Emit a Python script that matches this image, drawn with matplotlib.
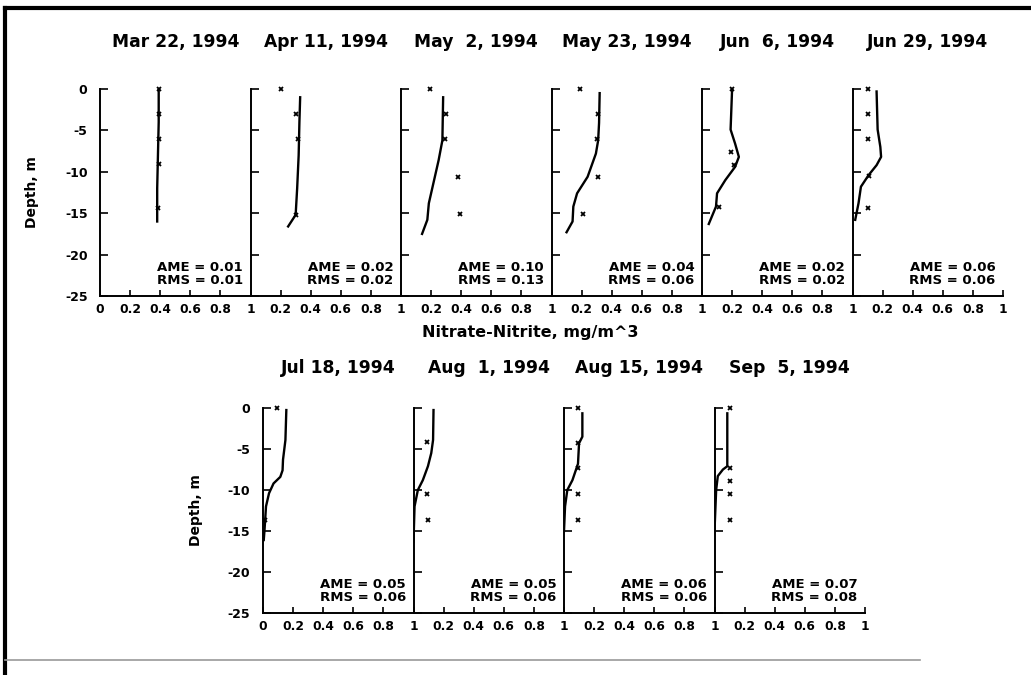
import matplotlib
matplotlib.use('Agg')
import matplotlib.pyplot as plt
from matplotlib.lines import Line2D

plt.rcParams['font.family'] = ['DejaVu Sans']
plt.rcParams['font.weight'] = 'bold'

# ── DATA ──
dates = ['Mar 22, 1994', 'Apr 11, 1994', 'May  2, 1994', 'May 23, 1994',
         'Jun  6, 1994', 'Jun 29, 1994', 'Jul 18, 1994', 'Aug  1, 1994',
         'Aug 15, 1994', 'Sep  5, 1994']
ame = [0.01, 0.02, 0.10, 0.04, 0.02, 0.06, 0.05, 0.05, 0.06, 0.07]
rms = [0.01, 0.02, 0.13, 0.06, 0.02, 0.06, 0.06, 0.06, 0.06, 0.08]

# model profiles (concentration, depth)
model_conc = [
    [0.39, 0.39, 0.385, 0.38, 0.38],
    [0.33, 0.325, 0.32, 0.31, 0.30, 0.25],
    [0.28, 0.275, 0.25, 0.22, 0.185, 0.175, 0.14],
    [0.32, 0.316, 0.31, 0.295, 0.24, 0.17, 0.145, 0.14, 0.10],
    [0.20, 0.19, 0.22, 0.245, 0.22, 0.155, 0.10, 0.093, 0.045],
    [0.16, 0.167, 0.185, 0.19, 0.16, 0.107, 0.056, 0.04, 0.018],
    [0.155, 0.149, 0.133, 0.13, 0.115, 0.07, 0.04, 0.02, 0.01, 0.005],
    [0.133, 0.13, 0.118, 0.096, 0.062, 0.029, 0.007, 0.0],
    [0.122, 0.122, 0.10, 0.093, 0.056, 0.022, 0.007, 0.0],
    [0.085, 0.085, 0.056, 0.022, 0.011, 0.0],
]
model_depth = [
    [0, -4, -8, -12, -16],
    [-1, -4, -8, -12, -15.2, -16.6],
    [-1, -6.2, -8.6, -11, -13.8, -15.8, -17.5],
    [-0.5, -4.1, -6.2, -7.8, -10.6, -12.6, -14.2, -16, -17.3],
    [0, -4.9, -6.6, -8.2, -9.4, -11, -12.6, -14.2, -16.3],
    [-0.3, -4.9, -7, -8.2, -9.2, -10.4, -11.8, -13.8, -15.8],
    [-0.25, -3.9, -6.3, -7.6, -8.4, -9.2, -10.4, -12, -14.9, -16.1],
    [-0.25, -3.9, -5.5, -7.1, -8.8, -10, -12, -16.3],
    [-0.65, -3.5, -4.3, -6.8, -8.8, -10, -12, -15],
    [-0.65, -7.1, -7.5, -8.3, -10, -15],
]

# observations (concentration, depth)
obs_conc = [
    [0.39, 0.39, 0.39, 0.39, 0.385],
    [0.20, 0.30, 0.315, 0.30],
    [0.19, 0.30, 0.29, 0.38, 0.39],
    [0.19, 0.31, 0.30, 0.31, 0.21],
    [0.20, 0.19, 0.21, 0.11],
    [0.10, 0.10, 0.10, 0.11, 0.10],
    [0.093, 0.01],
    [0.09, 0.09, 0.096],
    [0.093, 0.093, 0.093, 0.093, 0.093],
    [0.10, 0.10, 0.10, 0.10, 0.10],
]
obs_depth = [
    [0, -3, -6, -9, -14.4],
    [0, -3, -6, -15.2],
    [0, -3, -6, -10.6, -15.1],
    [0, -3, -6, -10.6, -15.1],
    [0, -7.6, -9.2, -14.2],
    [0, -3, -6, -10.5, -14.4],
    [0, -13.7],
    [-4.2, -10.5, -13.7],
    [0, -4.3, -7.3, -10.5, -13.7],
    [0, -7.3, -8.9, -10.5, -13.7],
]

depth_ticks = [0, -5, -10, -15, -20, -25]

# ── LAYOUT ──
W, H = 1031, 675
fig = plt.figure(figsize=(W / 100, H / 100), dpi=100)

pw = 150.5
rows = [
    dict(idx=range(0, 6), left=100, top=89, bottom=296, pad=30,
         ylab_x=32),
    dict(idx=range(6, 10), left=263, top=408, bottom=613, pad=25,
         ylab_x=196),
]

for row in rows:
    for k, i in enumerate(row['idx']):
        x0 = row['left'] + k * pw
        ax = fig.add_axes([x0 / W, 1 - row['bottom'] / H, pw / W,
                           (row['bottom'] - row['top']) / H])
        ax.plot(model_conc[i], model_depth[i], color='black', lw=1.7)
        ax.plot(obs_conc[i], obs_depth[i], 'x', color='black',
                ms=3.5, mew=1.3, clip_on=False)
        ax.set_xlim(0, 1)
        ax.set_ylim(-25, 0)
        for s in ['top', 'right']:
            ax.spines[s].set_visible(False)
        for s in ['left', 'bottom']:
            ax.spines[s].set_linewidth(1.4)
        ax.set_yticks(depth_ticks)
        if k == 0:
            ax.set_xticks([0, 0.2, 0.4, 0.6, 0.8, 1])
            ax.set_xticklabels(['0', '0.2', '0.4', '0.6', '0.8', '1'])
            ax.set_yticklabels([str(t) for t in depth_ticks])
        else:
            ax.set_xticks([0.2, 0.4, 0.6, 0.8, 1])
            ax.set_xticklabels(['0.2', '0.4', '0.6', '0.8', '1'])
            ax.set_yticklabels([])
        ax.tick_params(axis='y', direction='in', length=6, width=1.2,
                       labelsize=9, pad=9)
        ax.tick_params(axis='x', direction='in', length=4, width=1.2,
                       labelsize=8.8, pad=5)
        for lab in ax.get_xticklabels() + ax.get_yticklabels():
            lab.set_fontweight('bold')
        ax.set_title(dates[i], fontsize=12.3, fontweight='bold',
                     pad=row['pad'])
        ax.text(0.95, -21.5, f'AME = {ame[i]:.2f}', ha='right', va='center',
                fontsize=9.5, fontweight='bold')
        ax.text(0.95, -23.1, f'RMS = {rms[i]:.2f}', ha='right', va='center',
                fontsize=9.5, fontweight='bold')
        ax.patch.set_alpha(0)
    fig.text(row['ylab_x'] / W, 1 - (row['top'] + row['bottom']) / 2 / H,
             'Depth, m', rotation=90, ha='center', va='center',
             fontsize=10, fontweight='bold')

fig.text(530 / W, 1 - 332 / H, 'Nitrate-Nitrite, mg/m^3', ha='center',
         va='center', fontsize=11.5, fontweight='bold')

# scanned page frame
fig.add_artist(Line2D([5 / W, 1], [1 - 8 / H, 1 - 8 / H], color='black',
                      lw=3, transform=fig.transFigure))
fig.add_artist(Line2D([5 / W, 5 / W], [1 - 8 / H, 0], color='black',
                      lw=3, transform=fig.transFigure))
fig.add_artist(Line2D([5 / W, 920 / W], [1 - 660 / H, 1 - 660 / H],
                      color='#999999', lw=1.2, transform=fig.transFigure))

plt.savefig('out.png', dpi=100)
